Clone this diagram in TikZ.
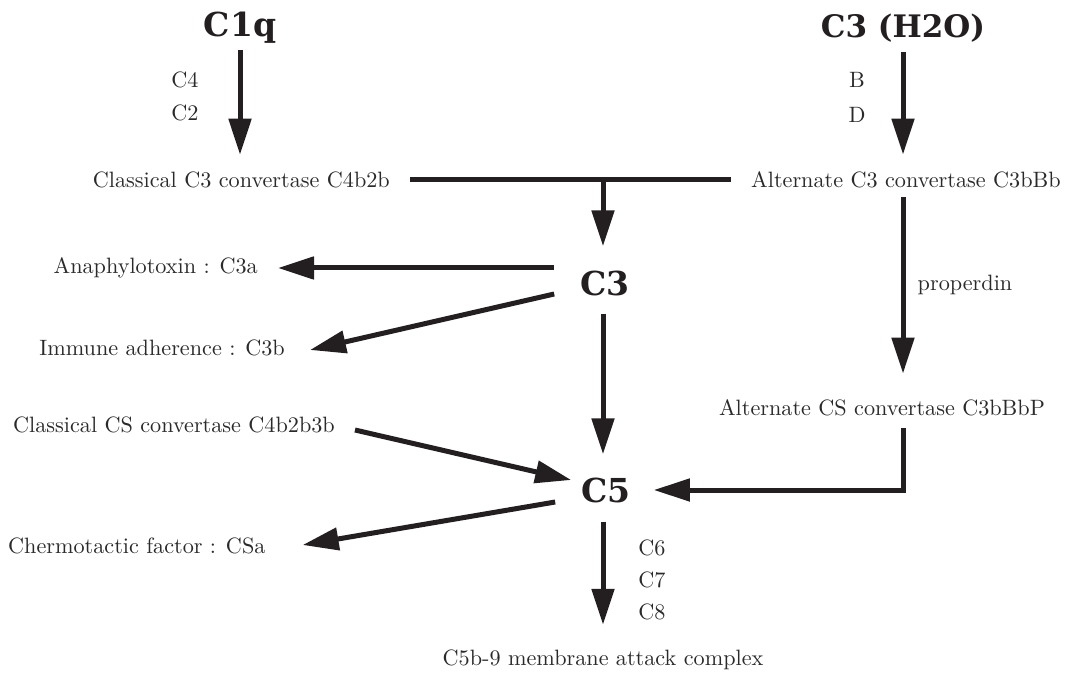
\documentclass[tikz,border=0pt]{standalone}
\usepackage{fontspec}
\newfontfamily\hdf{DejaVu Serif}
\newfontfamily\lbf{lmroman10-regular.otf}
\usetikzlibrary{arrows.meta,calc}
\definecolor{ink}{HTML}{231F20}
\definecolor{txt}{HTML}{2A2A2A}
\begin{document}
\begin{tikzpicture}[x=1pt,y=-1pt,
  lbl/.style={font=\lbf\fontsize{22.2}{26}\selectfont, text=txt, inner sep=0pt},
  hd/.style={font=\hdf\bfseries\fontsize{33}{40}\selectfont, text=ink, inner sep=0pt},
  hdn/.style={hd, font=\hdf\bfseries\fontsize{31}{38}\selectfont},
  ln/.style={line width=5pt, draw=ink},
  arr/.style={ln, -{Triangle[length=36pt,width=22pt]}}]
\useasboundingbox (0,0) rectangle (1065,676);
\node[hd] (c1q) at (240,28) {C1q};
\node[hdn] (c3h) at (903,28) {C3 (H2O)};
\node[lbl] (c4) at (185,80) {C4};
\node[lbl] (c2) at (185,113) {C2};
\node[lbl] (b) at (857,80) {B};
\node[lbl] (d) at (857,115) {D};
\node[lbl, anchor=east] (cc3) at (390,180) {Classical C3 convertase C4b2b};
\node[lbl, anchor=west] (ac3) at (751,180) {Alternate C3 convertase C3bBb};
\node[hd] (c3) at (605,283) {C3};
\node[lbl, anchor=east] (ana) at (258,268) {Anaphylotoxin : C3a};
\node[lbl, anchor=east] (imm) at (285,348) {Immune adherence : C3b};
\node[lbl, anchor=east] (ccs) at (335,425) {Classical CS convertase C4b2b3b};
\node[lbl] (prop) at (965,285) {properdin};
\node[lbl] (acs) at (882,408) {Alternate CS convertase C3bBbP};
\node[hd] (c5) at (606,490) {C5};
\node[lbl, anchor=west] (che) at (8,546) {Chermotactic factor : CSa};
\node[lbl] (c6) at (652,548) {C6};
\node[lbl] (c7) at (652,580) {C7};
\node[lbl] (c8) at (652,612) {C8};
\node[lbl] (mac) at (603,660) {C5b-9 membrane attack complex};
% connectors
\draw[arr, shorten <=6pt, shorten >=17pt] (c1q.south) -- (c1q.south |- cc3.north);
\draw[arr, shorten <=10pt, shorten >=17pt] (c3h.south) -- (c3h.south |- ac3.north);
\draw[ln, shorten <=20pt, shorten >=20pt] (cc3.east) -- (ac3.west);
\draw[arr, shorten >=24pt] (mac.north |- cc3.center) -- (mac.north |- c3.north);
\draw[arr, shorten <=26pt, shorten >=20pt] (c3.west |- ana.east) -- (ana.east);
\draw[arr] ($(c3.west)+(-26,11)$) -- ($(imm.east)+(25,2)$);
\draw[arr, shorten <=18pt, shorten >=23pt] (mac.north |- c3.south) -- (mac.north |- c5.north);
\draw[arr] ($(ccs.east)+(20,5)$) -- ($(c5.west)+(-10,-10)$);
\draw[arr, shorten <=9pt, shorten >=26pt] (c3h.center |- ac3.south) -- (c3h.center |- acs.north);
\draw[arr, shorten <=12pt, shorten >=23pt] (c3h.center |- acs.south) -- (c3h.center |- c5.east) -- (c5.east);
\draw[arr] ($(c5.west)+(-26,12)$) -- ($(che.east)+(37,-1)$);
\draw[arr, shorten <=19pt, shorten >=25pt] (mac.north |- c5.south) -- (mac.north);
\end{tikzpicture}
\end{document}
